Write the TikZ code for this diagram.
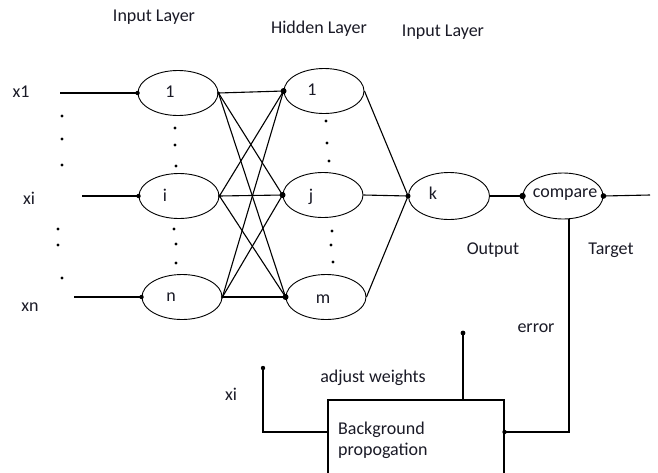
\documentclass[tikz,border=0pt]{standalone}
\usepackage{fontspec}
\setmainfont{Carlito}
\usetikzlibrary{shapes.geometric}
\definecolor{ink}{HTML}{1A1A26}
\tikzset{
  neuron/.style={draw, ellipse, line width=0.9pt, minimum width=80pt, minimum height=45pt, inner sep=0pt},
  lbl/.style={text=ink, inner sep=0pt, font=\fontsize{18}{21}\selectfont},
  wire/.style={line width=1.1pt},
  jdot/.style={fill=black},
}
\begin{document}
\begin{tikzpicture}[x=1pt, y=-1pt]
\clip (0,0) rectangle (658,472);
\fill[white] (0,0) rectangle (658,472);

% layer titles
\node[lbl] (t1) at (154,17) {Input Layer};
\node[lbl] (t2) at (319,29) {Hidden Layer};
\node[lbl] (t3) at (443,32) {Input Layer};

% input neurons
\node[neuron] (a1) at (178,93) {};
\node[neuron] (ai) at (179,196) {};
\node[neuron] (an) at (182,297) {};
\node[lbl] (a1t) at (170,92) {1};
\node[lbl] (ait) at (165,195) {i};
\node[lbl] (ant) at (171,297) {n};

% hidden neurons
\node[neuron] (h1) at (324,91) {};
\node[neuron] (hj) at (323,195) {};
\node[neuron] (hm) at (326,297) {};
\node[lbl] (h1t) at (312,90) {1};
\node[lbl] (hjt) at (311,197) {j};
\node[lbl] (hmt) at (323,299) {m};

% output and comparison
\node[neuron, minimum width=81pt, minimum height=47pt] (k) at (449,196) {};
\node[lbl] (kt) at (433,193) {k};
\node[neuron, minimum width=80pt, minimum height=46pt] (cmp) at (563,196) {};
\node[lbl] (cmpt) at (565,195) {compare};

% inputs
\node[lbl] (x1) at (21,92) {x1};
\node[lbl] (xi) at (29,198) {xi};
\node[lbl] (xn) at (30,307) {xn};
\coordinate (x1s) at (60,93);
\coordinate (xis) at (82,196);
\coordinate (xns) at (74,297);
\draw[wire] (x1s) -- (a1.west);
\draw[wire] (xis) -- (ai.west);
\draw[wire] (xns) -- (an.west);
\foreach \n in {a1,ai,an} \fill[jdot] (\n.west) circle (2.2);

% vertical ellipsis dots
\foreach \p in {(62,116),(62,139),(62,165),(58,229),(58,245),(62,278),
                (175,128),(175,145),(176,166),(174,229),(176,244),(176,263),
                (326,121),(327,143),(329,161),(332,231),(331,245),(333,262)}
  \fill \p circle (1.6);

% input to hidden, fully connected
\foreach \s in {a1,ai,an}{
  \foreach \t in {h1,hj,hm}{
    \draw[wire] (\s.east) -- (\t.west);
  }
  \fill[jdot] (\s.east) circle (1.6);
}
\foreach \t in {h1,hj,hm} \fill[jdot] (\t.west) circle (3);

% hidden to output
\foreach \s in {h1,hj,hm} \draw[wire] (\s.east) -- (k.west);
\fill[jdot] (k.west) circle (2.5);

% output to comparison and target
\draw[wire] (k.east) -- (cmp.west);
\fill[jdot] (cmp.west) circle (3.2);
\coordinate (tgt) at (650,195);
\draw[wire] (cmp.east) -- (tgt);
\fill[jdot] (cmp.east) circle (2.8);

\node[lbl] (out) at (493,250) {Output};
\node[lbl] (tgl) at (611,250) {Target};
\node[lbl] (err) at (536,328) {error};

% back propagation block
\node[draw, line width=1.1pt, rectangle, minimum width=176pt, minimum height=92pt, inner sep=0pt] (bp) at (416,446) {};
\node[lbl, anchor=west] (bp1) at (338,430) {Background};
\node[lbl, anchor=west] (bp2) at (338,451) {propogation};

\coordinate (ec) at (569,432);
\draw[wire] ([xshift=6pt]cmp.south) -- (ec) -- (ec -| bp.east);
\fill[jdot] (ec -| bp.east) circle (2.2);

\coordinate (aw) at (463,333);
\draw[wire] (aw) -- (aw |- bp.north);
\fill[jdot] (aw) circle (2.4);
\node[lbl] (awt) at (373,378) {adjust weights};

\coordinate (xb) at (263,368);
\draw[wire] (xb) |- (ec -| bp.west);
\fill[jdot] (xb) circle (2.2);
\node[lbl] (xbt) at (231,394) {xi};
\end{tikzpicture}
\end{document}
